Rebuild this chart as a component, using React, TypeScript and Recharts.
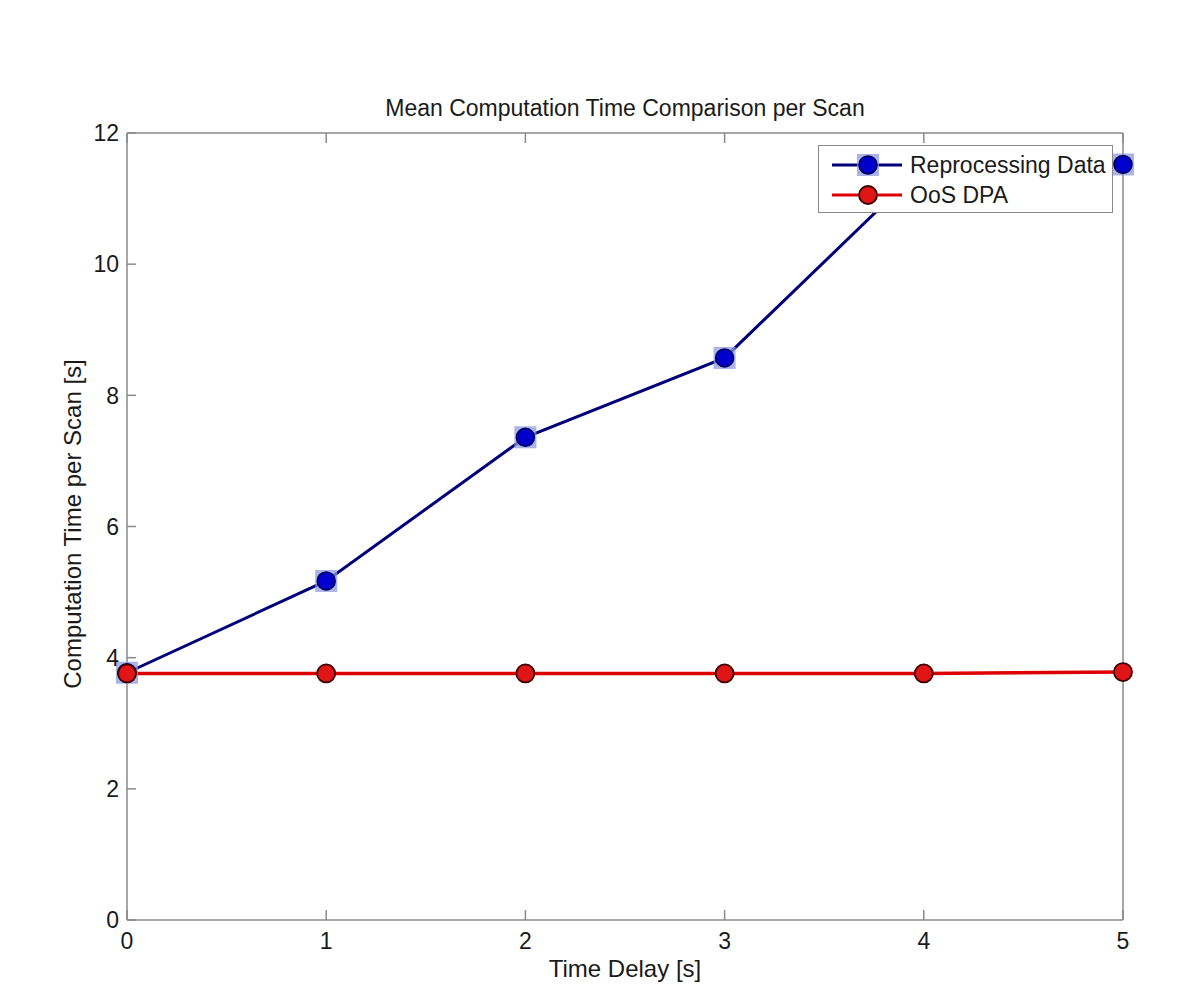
import React from "react";
import { LineChart, Line, XAxis, YAxis, Legend } from "recharts";

const delays = [0, 1, 2, 3, 4, 5];
const reprocessing = [3.77, 5.17, 7.36, 8.57, 11.5, 11.52];
const oosDpa = [3.76, 3.76, 3.76, 3.76, 3.76, 3.78];
const xTicks = [0, 1, 2, 3, 4, 5];
const yTicks = [0, 2, 4, 6, 8, 10, 12];
const seriesOrder = ["reproc", "oos"];

const data = delays.map((t, i) => ({
  t,
  reproc: reprocessing[i],
  oos: oosDpa[i],
}));

const FONT = "Arial, 'Liberation Sans', Helvetica, sans-serif";
const AXIS = "#8a8a8a";
const TEXT = "#1a1a1a";
const BLUE_LINE = "#00007a";
const RED_LINE = "#dd0000";

// plot box edges (px)
const LEFT = 127;
const RIGHT = 1123;
const TOP = 133;
const BOTTOM = 920;

const LeftTick = ({ y, payload }: any) => (
  <g>
    <line x1={LEFT} y1={y} x2={LEFT + 9} y2={y} stroke={AXIS} strokeWidth={1.5} />
    <text x={LEFT - 8} y={y} dy="0.36em" textAnchor="end" fontSize={23} fill={TEXT} fontFamily={FONT}>
      {payload.value}
    </text>
  </g>
);

const BottomTick = ({ x, payload }: any) => (
  <g>
    <line x1={x} y1={BOTTOM} x2={x} y2={BOTTOM - 10} stroke={AXIS} strokeWidth={1.5} />
    <text x={x} y={BOTTOM + 12} dy="0.72em" textAnchor="middle" fontSize={23} fill={TEXT} fontFamily={FONT}>
      {payload.value}
    </text>
  </g>
);

const RightTick = ({ y }: any) => (
  <line x1={RIGHT - 9} y1={y} x2={RIGHT} y2={y} stroke={AXIS} strokeWidth={1.5} />
);

const TopTick = ({ x }: any) => (
  <line x1={x} y1={TOP} x2={x} y2={TOP + 10} stroke={AXIS} strokeWidth={1.5} />
);

const BlueDot = ({ cx, cy }: any) => (
  <g>
    <rect x={cx - 11} y={cy - 11} width={22} height={22} fill="#8f9be0" fillOpacity={0.75} />
    <circle cx={cx} cy={cy} r={9} fill="#0000cc" stroke="#000050" strokeWidth={1.5} />
  </g>
);

const RedDot = ({ cx, cy }: any) => (
  <circle cx={cx} cy={cy} r={9} fill="#e01515" stroke="#3a0000" strokeWidth={1.8} />
);

const renderLegend = (props: any) => {
  const items = [...(props.payload || [])].sort(
    (a: any, b: any) => seriesOrder.indexOf(a.dataKey) - seriesOrder.indexOf(b.dataKey)
  );
  return (
    <div
      style={{
        width: 295,
        height: 68,
        boxSizing: "border-box",
        border: `1.5px solid ${AXIS}`,
        background: "#fff",
        paddingTop: 4,
        fontFamily: FONT,
      }}
    >
      {items.map((entry: any) => {
        const blue = entry.dataKey === "reproc";
        return (
          <div key={entry.value} style={{ display: "flex", alignItems: "center", height: 30 }}>
            <svg width={91} height={30} style={{ display: "block", flex: "none" }}>
              <line x1={13} y1={15} x2={83} y2={15} stroke={blue ? BLUE_LINE : RED_LINE} strokeWidth={3} />
              {blue ? <BlueDot cx={49} cy={15} /> : <RedDot cx={49} cy={15} />}
            </svg>
            <span style={{ fontSize: 23, color: TEXT, whiteSpace: "nowrap" }}>{entry.value}</span>
          </div>
        );
      })}
    </div>
  );
};

export default function App() {
  return (
    <div style={{ position: "absolute", left: 0, top: 0, width: 1200, height: 1001, background: "#fff" }}>
      <LineChart
        width={1200}
        height={1001}
        data={data}
        margin={{ top: TOP - 10, right: 1200 - RIGHT - 10, bottom: 1001 - BOTTOM - 40, left: LEFT - 60 }}
      >
        <XAxis
          dataKey="t"
          type="number"
          domain={[0, 5]}
          ticks={xTicks}
          interval={0}
          height={40}
          tickLine={false}
          axisLine={{ stroke: AXIS, strokeWidth: 1.5 }}
          tick={<BottomTick />}
        />
        <XAxis
          xAxisId="top"
          orientation="top"
          type="number"
          domain={[0, 5]}
          ticks={xTicks}
          interval={0}
          height={10}
          tickLine={false}
          axisLine={{ stroke: AXIS, strokeWidth: 1.5 }}
          tick={<TopTick />}
        />
        <YAxis
          type="number"
          domain={[0, 12]}
          ticks={yTicks}
          interval={0}
          width={60}
          tickLine={false}
          axisLine={{ stroke: AXIS, strokeWidth: 1.5 }}
          tick={<LeftTick />}
        />
        <YAxis
          yAxisId="right"
          orientation="right"
          type="number"
          domain={[0, 12]}
          ticks={yTicks}
          interval={0}
          width={10}
          tickLine={false}
          axisLine={{ stroke: AXIS, strokeWidth: 1.5 }}
          tick={<RightTick />}
        />
        <Line
          dataKey="reproc"
          name="Reprocessing Data"
          stroke={BLUE_LINE}
          strokeWidth={3}
          dot={(p: any) => <BlueDot key={`b${p.index}`} cx={p.cx} cy={p.cy} />}
          activeDot={false}
          isAnimationActive={false}
        />
        <Line
          dataKey="oos"
          name="OoS DPA"
          stroke={RED_LINE}
          strokeWidth={3.5}
          dot={(p: any) => <RedDot key={`r${p.index}`} cx={p.cx} cy={p.cy} />}
          activeDot={false}
          isAnimationActive={false}
        />
        <Legend
          layout="horizontal"
          align="center"
          verticalAlign="middle"
          content={renderLegend}
          wrapperStyle={{ left: 818, top: 145, width: 295, height: 68 }}
        />
        <text x={625} y={108} dy="0.36em" textAnchor="middle" fontSize={23} fill={TEXT} fontFamily={FONT}>
          Mean Computation Time Comparison per Scan
        </text>
        <text x={625} y={968} dy="0.36em" textAnchor="middle" fontSize={24} fill={TEXT} fontFamily={FONT}>
          Time Delay [s]
        </text>
        <text
          x={72}
          y={524}
          dy="0.36em"
          textAnchor="middle"
          fontSize={24}
          fill={TEXT}
          fontFamily={FONT}
          transform="rotate(-90 72 524)"
        >
          Computation Time per Scan [s]
        </text>
      </LineChart>
    </div>
  );
}
